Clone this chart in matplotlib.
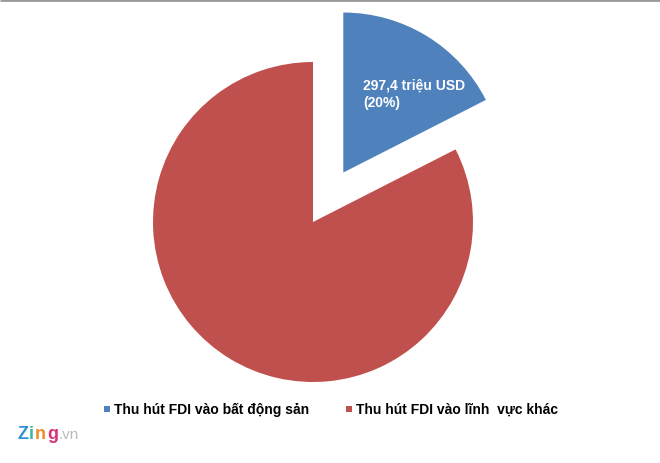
import matplotlib
matplotlib.use("Agg")
import matplotlib.pyplot as plt
from matplotlib.patches import Rectangle

plt.rcParams['font.family'] = ['Liberation Sans', 'DejaVu Sans']

categories = ["Thu hút FDI vào bất động sản", "Thu hút FDI vào lĩnh  vực khác"]
values = [17.5, 82.5]
colors = ["#4F81BD", "#C0504D"]
label_text = "297,4 triệu USD\n(20%)"

fig = plt.figure(figsize=(6.6, 4.64), dpi=100)
ax = fig.add_axes([0, 0, 1, 1])
H = 464
wedges, _ = ax.pie(values, colors=colors, explode=[58, 0], startangle=90,
                   counterclock=False, center=(313, H - 223), radius=160,
                   wedgeprops=dict(linewidth=0))
ax.set_xlim(0, 660)
ax.set_ylim(0, H)
ax.set_aspect('equal')
ax.axis('off')

# top grey border line
ax.plot([0, 660], [H - 1, H - 1], color="#999999", lw=2, solid_capstyle='butt')

ax.text(363, H - 78, label_text, color="white", fontsize=10, fontweight="bold",
        ha="left", va="top", linespacing=1.35)

# legend
leg_y = H - 410
ax.add_patch(Rectangle((104, leg_y - 3), 6, 6, color=colors[0], lw=0))
ax.text(114, leg_y, categories[0], fontsize=10, fontweight="bold", ha="left", va="center")
ax.add_patch(Rectangle((346, leg_y - 3), 6, 6, color=colors[1], lw=0))
ax.text(356, leg_y, categories[1], fontsize=10, fontweight="bold", ha="left", va="center")

# logo
renderer = fig.canvas.get_renderer()
x = 17
for ch, c in zip("Zing", ["#2f8fd6", "#36b5a0", "#f08a24", "#d6337a"]):
    t = ax.text(x, H - 439, ch, color=c, fontsize=13, fontweight="bold", ha="left", va="baseline")
    bb = t.get_window_extent(renderer)
    x += bb.width + 1
ax.text(x, H - 439, ".vn", color="#bbbbbb", fontsize=11, ha="left", va="baseline")

fig.savefig("out.png", dpi=100)
